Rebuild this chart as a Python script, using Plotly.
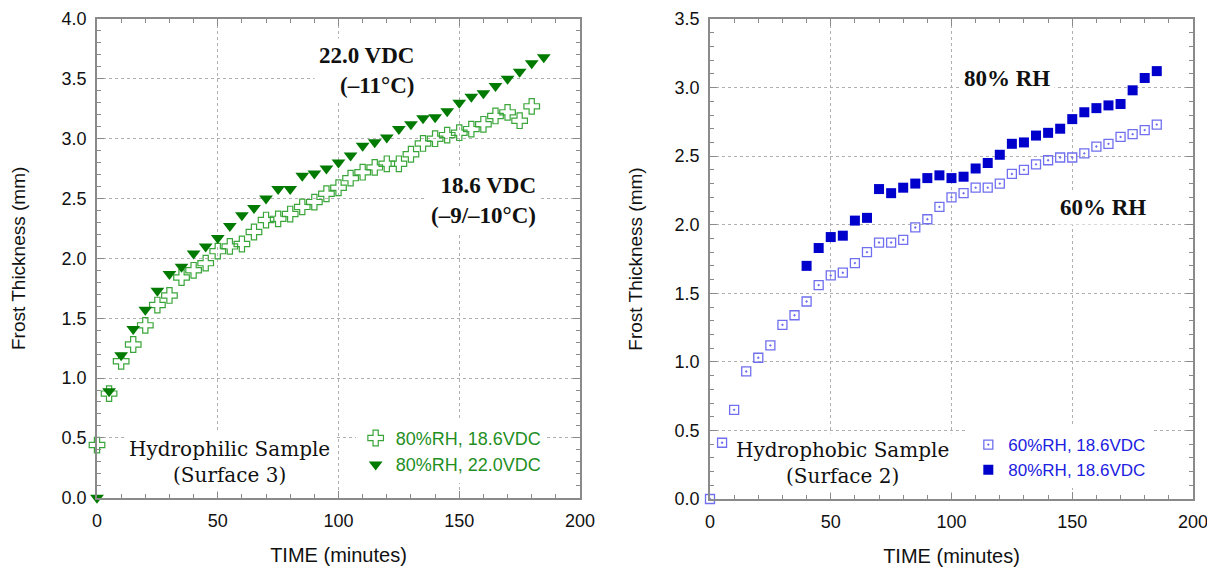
import plotly.graph_objects as go

# ---------------- data ----------------
# Left panel: hydrophilic sample (Surface 3)
time_186 = [0, 5, 10, 15, 20, 25, 30, 35, 40, 45, 50, 55, 60, 65, 70, 75, 80, 85, 90,
            95, 100, 105, 110, 115, 120, 125, 130, 135, 140, 145, 150, 155, 160, 165,
            170, 175, 180]
thick_186 = [0.44, 0.87, 1.14, 1.28, 1.44, 1.61, 1.69, 1.84, 1.90, 1.96, 2.06, 2.10,
             2.12, 2.22, 2.32, 2.33, 2.37, 2.43, 2.47, 2.54, 2.59, 2.67, 2.72, 2.76,
             2.79, 2.79, 2.87, 2.96, 3.00, 3.03, 3.05, 3.08, 3.12, 3.19, 3.22, 3.15, 3.27]

time_220 = [0, 5, 10, 15, 20, 25, 30, 35, 40, 45, 50, 55, 60, 65, 70, 75, 80, 85, 90,
            95, 100, 105, 110, 115, 120, 125, 130, 135, 140, 145, 150, 155, 160, 165,
            170, 175, 180, 185]
thick_220 = [0.00, 0.89, 1.19, 1.41, 1.57, 1.73, 1.87, 1.93, 2.04, 2.10, 2.17, 2.27,
             2.36, 2.42, 2.50, 2.58, 2.58, 2.69, 2.71, 2.75, 2.80, 2.86, 2.94, 2.97,
             3.01, 3.08, 3.12, 3.17, 3.18, 3.23, 3.30, 3.35, 3.38, 3.44, 3.50, 3.56,
             3.63, 3.68]

# Right panel: hydrophobic sample (Surface 2)
time_60 = [0, 5, 10, 15, 20, 25, 30, 35, 40, 45, 50, 55, 60, 65, 70, 75, 80, 85, 90,
           95, 100, 105, 110, 115, 120, 125, 130, 135, 140, 145, 150, 155, 160, 165,
           170, 175, 180, 185]
thick_60 = [0.00, 0.41, 0.65, 0.93, 1.03, 1.12, 1.27, 1.34, 1.44, 1.56, 1.63, 1.65,
            1.72, 1.80, 1.87, 1.87, 1.89, 1.98, 2.04, 2.13, 2.20, 2.23, 2.27, 2.27,
            2.30, 2.37, 2.40, 2.44, 2.47, 2.49, 2.49, 2.52, 2.57, 2.59, 2.64, 2.66,
            2.69, 2.73]

time_80 = [40, 45, 50, 55, 60, 65, 70, 75, 80, 85, 90, 95, 100, 105, 110, 115, 120,
           125, 130, 135, 140, 145, 150, 155, 160, 165, 170, 175, 180, 185]
thick_80 = [1.70, 1.83, 1.91, 1.92, 2.03, 2.05, 2.26, 2.23, 2.27, 2.30, 2.34, 2.36,
            2.34, 2.35, 2.41, 2.45, 2.51, 2.59, 2.60, 2.65, 2.67, 2.70, 2.77, 2.82,
            2.85, 2.87, 2.88, 2.98, 3.07, 3.12]

x_ticks = [0, 50, 100, 150, 200]
left_y_ticks = [0.0, 0.5, 1.0, 1.5, 2.0, 2.5, 3.0, 3.5, 4.0]
right_y_ticks = [0.0, 0.5, 1.0, 1.5, 2.0, 2.5, 3.0, 3.5]

# ---------------- style ----------------
SANS = "Liberation Sans, Arial, sans-serif"
SERIF_B = "Liberation Serif, Times New Roman, serif"
SERIF = "DejaVu Serif, serif"
AXC = "#8a8a8a"
GRID = "#b0b0b0"

fig = go.Figure()

fig.add_trace(go.Scatter(
    x=time_186, y=thick_186, mode="markers", name="80%RH, 18.6VDC",
    marker=dict(symbol="cross-open", size=13, color="#3aa53a", line=dict(width=1.2)),
    xaxis="x", yaxis="y", legend="legend", cliponaxis=False))
fig.add_trace(go.Scatter(
    x=time_220, y=thick_220, mode="markers", name="80%RH, 22.0VDC",
    marker=dict(symbol="triangle-down", size=12, color="#007a00"),
    xaxis="x", yaxis="y", legend="legend", cliponaxis=False))
fig.add_trace(go.Scatter(
    x=time_60, y=thick_60, mode="markers", name="60%RH, 18.6VDC",
    marker=dict(symbol="square-open-dot", size=9, color="#6f6ff0", line=dict(width=1.3)),
    xaxis="x2", yaxis="y2", legend="legend2", cliponaxis=False))
fig.add_trace(go.Scatter(
    x=time_80, y=thick_80, mode="markers", name="80%RH, 18.6VDC",
    marker=dict(symbol="square", size=10, color="#0000cc"),
    xaxis="x2", yaxis="y2", legend="legend2", cliponaxis=False))


def xaxis(domain, anchor):
    return dict(
        domain=domain, anchor=anchor, range=[0, 200], tickvals=x_ticks,
        automargin=False, ticklabelstandoff=6, ticklabeloverflow="allow",
        ticks="inside", ticklen=7, tickcolor=AXC, tickwidth=1,
        minor=dict(dtick=10, tick0=0, ticks="inside", ticklen=4, tickcolor=AXC, showgrid=False),
        showline=True, linecolor=AXC, linewidth=1.5, mirror="allticks",
        showgrid=True, gridcolor=GRID, griddash="dot", gridwidth=1,
        zeroline=False, tickfont=dict(family=SANS, size=18, color="#111"),
        title=dict(text="TIME (minutes)", font=dict(family=SANS, size=20, color="#111"),
                   standoff=18),
    )


def yaxis(domain, anchor, top, ticks, standoff):
    return dict(
        domain=domain, anchor=anchor, range=[0, top], tickvals=ticks,
        tickformat=".1f", automargin=False, ticklabelstandoff=5,
        ticklabeloverflow="allow",
        ticks="inside", ticklen=7, tickcolor=AXC, tickwidth=1,
        minor=dict(dtick=0.1, tick0=0, ticks="inside", ticklen=4, tickcolor=AXC, showgrid=False),
        showline=True, linecolor=AXC, linewidth=1.5, mirror="allticks",
        showgrid=True, gridcolor=GRID, griddash="dot", gridwidth=1,
        zeroline=False, tickfont=dict(family=SANS, size=18, color="#111"),
        title=dict(text="Frost Thickness (mm)", font=dict(family=SANS, size=19, color="#111"),
                   standoff=standoff),
    )


# the page adds an 8 px body margin, so the figure is 8 px smaller on each axis
fig.update_layout(
    width=1207, height=563,
    margin=dict(l=89, r=22, t=11, b=72),
    paper_bgcolor="white", plot_bgcolor="white",
    xaxis=xaxis([0, 0.4407], "y"),
    yaxis=yaxis([0.0027, 1.0], "x", 4.0, left_y_ticks, 31),
    xaxis2=xaxis([0.5593, 1.0], "y2"),
    yaxis2=yaxis([0.0, 1.0], "x2", 3.5, right_y_ticks, 27),
    legend=dict(x=0.236, y=0.165, xanchor="left", yanchor="top",
                bgcolor="white", borderwidth=0, tracegroupgap=0,
                font=dict(family=SANS, size=18, color="#1f8f1f")),
    legend2=dict(x=0.795, y=0.15, xanchor="left", yanchor="top",
                 bgcolor="white", borderwidth=0, tracegroupgap=0,
                 font=dict(family=SANS, size=17, color="#2020e0")),
    showlegend=True,
)

ann = [
    dict(text="<b>22.0 VDC<br>(–11°C)</b>", x=133.4, y=3.57, xref="x", yref="y",
         xanchor="right", yanchor="middle", align="right",
         font=dict(family=SERIF_B, size=23, color="#111")),
    dict(text="<b>18.6 VDC<br>(–9/–10°C)</b>", x=184.0, y=2.48, xref="x", yref="y",
         xanchor="right", yanchor="middle", align="right",
         font=dict(family=SERIF_B, size=23, color="#111")),
    dict(text="Hydrophilic Sample<br>(Surface 3)", x=54.7, y=0.30, xref="x", yref="y",
         xanchor="center", yanchor="middle", align="center",
         font=dict(family=SERIF, size=20, color="#111")),
    dict(text="<b>80% RH</b>", x=122.9, y=3.066, xref="x2", yref="y2",
         xanchor="center", yanchor="middle",
         font=dict(family=SERIF_B, size=23, color="#111")),
    dict(text="<b>60% RH</b>", x=162.7, y=2.127, xref="x2", yref="y2",
         xanchor="center", yanchor="middle",
         font=dict(family=SERIF_B, size=23, color="#111")),
    dict(text="Hydrophobic Sample<br>(Surface 2)", x=54.7, y=0.264, xref="x2", yref="y2",
         xanchor="center", yanchor="middle", align="center",
         font=dict(family=SERIF, size=20, color="#111")),
]
for a in ann:
    a.update(showarrow=False, bgcolor="white", borderpad=4)
fig.update_layout(annotations=ann)

fig.write_html("out.html")
